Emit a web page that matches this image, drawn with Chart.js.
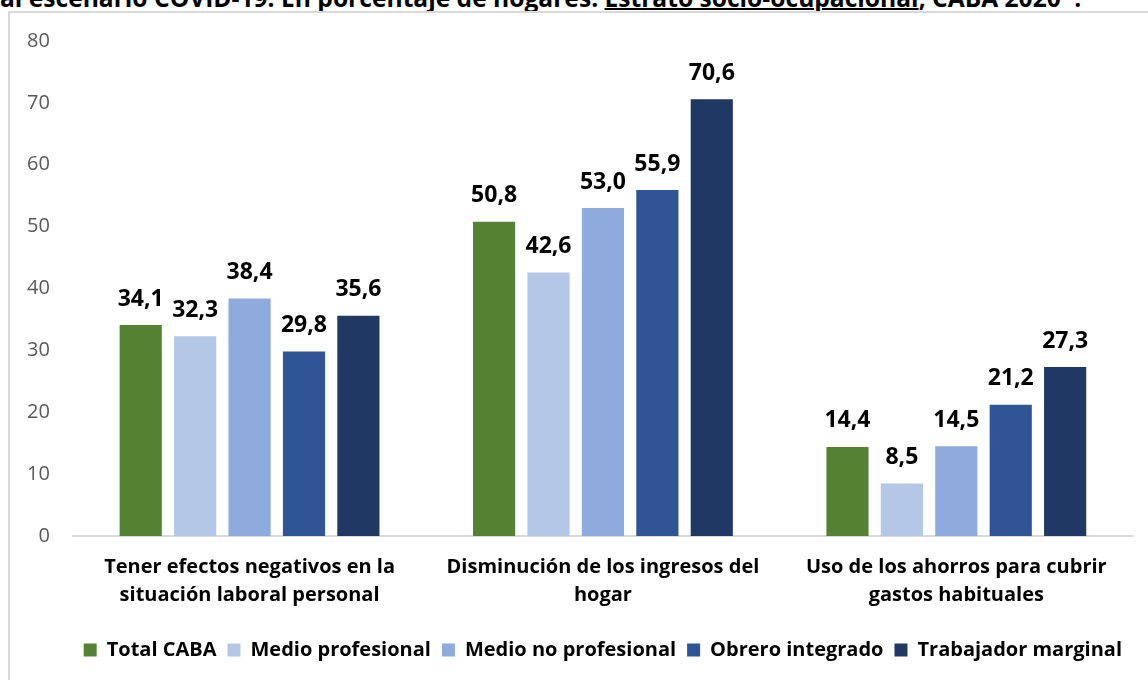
<!DOCTYPE html>
<html>
<head>
<meta charset="utf-8">
<script src="https://cdn.jsdelivr.net/npm/chart.js@4.4.0/dist/chart.umd.min.js"></script>
<style>
  html, body { margin: 0; padding: 0; background: #fff; }
  body { width: 1148px; height: 680px; position: relative; overflow: hidden; font-family: "Open Sans", sans-serif; }
  #title { position: absolute; left: 0; top: -19px; font-weight: bold; font-size: 24.6px; white-space: nowrap; color: #000; }
  #title u { text-decoration-thickness: 2px; }
  #frame { position: absolute; left: 8px; top: 11px; width: 1160px; height: 700px; border: 2px solid #d9d9d9; box-sizing: border-box; }
  #wrap { position: absolute; left: 0; top: 0; width: 1148px; height: 680px; }
</style>
</head>
<body>
<div id="title">al escenario COVID-19. En porcentaje de hogares. <u>Estrato socio-ocupacional</u>, CABA 2020*.</div>
<div id="frame"></div>
<div id="wrap"><canvas id="chart" width="1148" height="680"></canvas></div>
<script>
const FONT = "'Open Sans', sans-serif";

const categories = [
  ["Tener efectos negativos en la", "situación laboral personal"],
  ["Disminución de los ingresos del", "hogar"],
  ["Uso de los ahorros para cubrir", "gastos habituales"]
];

const seriesNames = ["Total CABA", "Medio profesional", "Medio no profesional", "Obrero integrado", "Trabajador marginal"];
const seriesColors = ["#548235", "#b4c7e7", "#8faadc", "#2f5597", "#203864"];

const totalCaba = [34.1, 50.8, 14.4];
const medioProf = [32.3, 42.6, 8.5];
const medioNoProf = [38.4, 53.0, 14.5];
const obrero = [29.8, 55.9, 21.2];
const marginal = [35.6, 70.6, 27.3];

const yTicks = [0, 10, 20, 30, 40, 50, 60, 70, 80];

const seriesValues = [totalCaba, medioProf, medioNoProf, obrero, marginal];

// value labels above the bars
const barLabels = {
  id: "barLabels",
  afterDatasetsDraw(chart) {
    const ctx = chart.ctx;
    ctx.save();
    ctx.font = "bold 23px " + FONT;
    ctx.fillStyle = "#000";
    ctx.textAlign = "center";
    ctx.textBaseline = "middle";
    chart.data.datasets.forEach((ds, i) => {
      const meta = chart.getDatasetMeta(i);
      meta.data.forEach((bar, j) => {
        const txt = ds.data[j].toFixed(1).replace(".", ",");
        ctx.fillText(txt, bar.x, bar.y - 26);
      });
    });
    ctx.restore();
  }
};

const ctx = document.getElementById("chart").getContext("2d");

new Chart(ctx, {
  type: "bar",
  data: {
    labels: categories,
    datasets: seriesNames.map((name, i) => ({
      label: name,
      data: seriesValues[i],
      backgroundColor: seriesColors[i],
      barPercentage: 0.775,
      categoryPercentage: 0.77
    }))
  },
  options: {
    responsive: false,
    animation: false,
    layout: { padding: { left: 4, right: 15, top: 41, bottom: 10 } },
    plugins: {
      tooltip: { enabled: false },
      legend: {
        position: "bottom",
        align: "end",
        labels: {
          color: "#000",
          font: { family: FONT, size: 20, weight: "bold" },
          boxWidth: 13,
          boxHeight: 13,
          padding: 11
        }
      }
    },
    scales: {
      x: {
        grid: { display: false },
        border: { color: "#d9d9d9", width: 2 },
        afterFit: axis => {
          axis.paddingLeft = 0;
          axis.paddingRight = 0;
          axis.height += 11;
        },
        ticks: {
          color: "#000",
          font: { family: FONT, size: 20, weight: "bold", lineHeight: 1.4 },
          padding: 9,
          maxRotation: 0
        }
      },
      y: {
        min: 0,
        max: 80,
        afterBuildTicks: axis => { axis.ticks = yTicks.map(v => ({ value: v })); },
        grid: { display: false, drawTicks: false },
        border: { display: false },
        ticks: {
          color: "#595959",
          font: { family: FONT, size: 20 },
          padding: 23
        }
      }
    }
  },
  plugins: [barLabels]
});
</script>
</body>
</html>
